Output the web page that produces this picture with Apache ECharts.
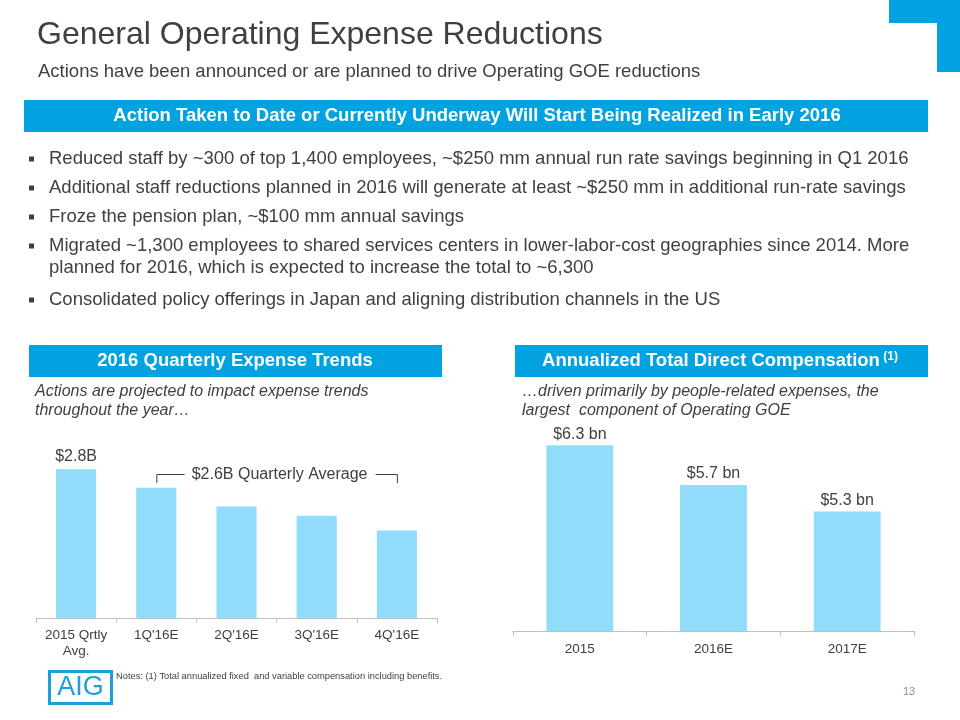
<!DOCTYPE html>
<html>
<head>
<meta charset="utf-8">
<script src="https://cdn.jsdelivr.net/npm/echarts@6/dist/echarts.min.js"></script>
<style>
html,body{margin:0;padding:0;background:#fff;}
#main{width:960px;height:720px;}
</style>
</head>
<body>
<div id="main"></div>
<script>
// ---- data ----
const qCategories = ['2015 Qrtly\nAvg.', "1Q'16E", "2Q'16E", "3Q'16E", "4Q'16E"];
const qValues = [2.8, 2.7, 2.6, 2.55, 2.47];
const qLabels = ['$2.8B', '', '', '', ''];
const qAverageLabel = '$2.6B Quarterly Average';
const compCategories = ['2015', '2016E', '2017E'];
const compValues = [6.3, 5.7, 5.3];
const compLabels = ['$6.3 bn', '$5.7 bn', '$5.3 bn'];
const titleText = 'General Operating Expense Reductions';
const subtitleText = 'Actions have been announced or are planned to drive Operating GOE reductions';
const bannerText = 'Action Taken to Date or Currently Underway Will Start Being Realized in Early 2016';
const bulletLines = [
  ['Reduced staff by ~300 of top 1,400 employees, ~$250 mm annual run rate savings beginning in Q1 2016'],
  ['Additional staff reductions planned in 2016 will generate at least ~$250 mm in additional run-rate savings'],
  ['Froze the pension plan, ~$100 mm annual savings'],
  ['Migrated ~1,300 employees to shared services centers in lower-labor-cost geographies since 2014. More', 'planned for 2016, which is expected to increase the total to ~6,300'],
  ['Consolidated policy offerings in Japan and aligning distribution channels in the US']
];
const leftBanner = '2016 Quarterly Expense Trends';
const rightBanner = 'Annualized Total Direct Compensation';
const leftNote = ['Actions are projected to impact expense trends', 'throughout the year\u2026'];
const rightNote = ['\u2026driven primarily by people-related expenses, the', 'largest  component of Operating GOE'];
const footNote = 'Notes: (1) Total annualized fixed  and variable compensation including benefits.';
const pageNumber = '13';

// ---- styles ----
const FONT = '"Liberation Sans", Arial, sans-serif';
const TXT = '#404040';
const BLUE = '#00a3e0';
const BAR = '#8fddfb';
const AXIS = '#bfbfbf';

const chart = echarts.init(document.getElementById('main'), null, {renderer: 'canvas'});

function staticGraphics() {
  const g = [];
  // corner decoration
  g.push({type: 'rect', shape: {x: 889, y: 0, width: 71, height: 23}, style: {fill: BLUE}, silent: true});
  g.push({type: 'rect', shape: {x: 937, y: 0, width: 23, height: 72}, style: {fill: BLUE}, silent: true});
  // title
  g.push({type: 'text', style: {text: titleText, x: 37, y: 35, font: '32px ' + FONT, fill: TXT, textVerticalAlign: 'middle'}});
  g.push({type: 'text', style: {text: subtitleText, x: 38, y: 72, font: '18.5px ' + FONT, fill: TXT, textVerticalAlign: 'middle'}});
  // top banner
  g.push({type: 'rect', shape: {x: 24, y: 100, width: 904, height: 32}, style: {fill: BLUE}});
  g.push({type: 'text', style: {text: bannerText, x: 477, y: 116, font: 'bold 18.5px ' + FONT, fill: '#fff', textAlign: 'center', textVerticalAlign: 'middle'}});
  // bullets
  const rowY = [159, 188, 217, 246, 300];
  bulletLines.forEach((lines, i) => {
    g.push({type: 'rect', shape: {x: 29, y: rowY[i] - 2.5, width: 5, height: 5}, style: {fill: TXT}});
    lines.forEach((ln, j) => {
      g.push({type: 'text', style: {text: ln, x: 49, y: rowY[i] + j * 22, font: '18.5px ' + FONT, fill: TXT, textVerticalAlign: 'middle'}});
    });
  });
  // lower banners
  g.push({type: 'rect', shape: {x: 29, y: 345, width: 413, height: 32}, style: {fill: BLUE}});
  g.push({type: 'text', style: {text: leftBanner, x: 235, y: 361, font: 'bold 18.5px ' + FONT, fill: '#fff', textAlign: 'center', textVerticalAlign: 'middle'}});
  g.push({type: 'rect', shape: {x: 515, y: 345, width: 413, height: 32}, style: {fill: BLUE}});
  g.push({type: 'text', style: {
    text: '{m|' + rightBanner + '} {s|(1)}', x: 720, y: 361, textAlign: 'center', textVerticalAlign: 'middle',
    rich: {
      m: {font: 'bold 18.5px ' + FONT, fill: '#fff', verticalAlign: 'middle'},
      s: {font: 'bold 12px ' + FONT, fill: '#fff', verticalAlign: 'top', padding: [0, 0, 8, 0]}
    }
  }});
  // italic notes
  leftNote.forEach((ln, j) => g.push({type: 'text', style: {text: ln, x: 35, y: 392 + j * 19, font: 'italic 16px ' + FONT, fill: TXT, textVerticalAlign: 'middle'}}));
  rightNote.forEach((ln, j) => g.push({type: 'text', style: {text: ln, x: 522, y: 392 + j * 19, font: 'italic 16px ' + FONT, fill: TXT, textVerticalAlign: 'middle'}}));
  // logo
  g.push({type: 'rect', shape: {x: 49.5, y: 671.5, width: 62, height: 32}, style: {fill: 'none', stroke: '#1f9fd8', lineWidth: 3}});
  g.push({type: 'text', style: {text: 'AIG', x: 80.5, y: 688, font: '27px ' + FONT, fill: '#1f9fd8', textAlign: 'center', textVerticalAlign: 'middle'}});
  g.push({type: 'text', style: {text: footNote, x: 116, y: 676, font: '9.3px ' + FONT, fill: TXT, textVerticalAlign: 'middle'}});
  g.push({type: 'text', style: {text: pageNumber, x: 909, y: 692, font: '11px ' + FONT, fill: '#8c8c8c', textAlign: 'center', textVerticalAlign: 'middle'}});
  return g;
}

const axisCommon = {
  type: 'category',
  axisLine: {show: true, lineStyle: {color: AXIS, width: 1}},
  axisTick: {show: true, alignWithLabel: false, length: 5, lineStyle: {color: AXIS}},
  axisLabel: {color: TXT, fontSize: 13.5, fontFamily: FONT, lineHeight: 16, interval: 0}
};

const option = {
  animation: false,
  backgroundColor: '#fff',
  grid: [
    {left: 36, width: 401, top: 432, height: 186},
    {left: 513, width: 401, top: 432, height: 199}
  ],
  xAxis: [
    Object.assign({}, axisCommon, {gridIndex: 0, data: qCategories, axisLabel: Object.assign({}, axisCommon.axisLabel, {margin: 9})}),
    Object.assign({}, axisCommon, {gridIndex: 1, data: compCategories, axisLabel: Object.assign({}, axisCommon.axisLabel, {margin: 10})})
  ],
  yAxis: [
    {type: 'value', gridIndex: 0, min: 2, max: 3, show: false, splitLine: {show: false}},
    {type: 'value', gridIndex: 1, min: 3.5, max: 6.5, show: false, splitLine: {show: false}}
  ],
  series: [
    {
      type: 'bar', xAxisIndex: 0, yAxisIndex: 0, data: qValues, barWidth: '50%',
      itemStyle: {color: BAR},
      label: {show: true, position: 'top', distance: 5, color: TXT, fontSize: 16, fontFamily: FONT,
        formatter: p => qLabels[p.dataIndex]}
    },
    {
      type: 'bar', xAxisIndex: 1, yAxisIndex: 1, data: compValues, barWidth: '50%',
      itemStyle: {color: BAR},
      label: {show: true, position: 'top', distance: 3, color: TXT, fontSize: 16, fontFamily: FONT,
        formatter: p => compLabels[p.dataIndex]}
    }
  ],
  graphic: staticGraphics()
};
chart.setOption(option);

// bracket annotation spanning the 2016 quarters, positioned from the axis
const xa = chart.convertToPixel({xAxisIndex: 0}, qCategories[1]);
const xb = chart.convertToPixel({xAxisIndex: 0}, qCategories[4]);
const yTop = 474, yEnd = 483;
const mid = (xa + xb) / 2 + 3;
const halfText = 91;
const g2 = staticGraphics();
g2.push({type: 'polyline', shape: {points: [[xa + 0.5, yEnd], [xa + 0.5, yTop + 0.5], [mid - halfText - 4, yTop + 0.5]]}, style: {stroke: TXT, lineWidth: 1, fill: null}});
g2.push({type: 'polyline', shape: {points: [[mid + halfText + 5, yTop + 0.5], [xb + 0.5, yTop + 0.5], [xb + 0.5, yEnd]]}, style: {stroke: TXT, lineWidth: 1, fill: null}});
g2.push({type: 'text', style: {text: qAverageLabel, x: mid, y: yTop + 1, font: '16px ' + FONT, fill: TXT, textAlign: 'center', textVerticalAlign: 'middle'}});
chart.setOption({graphic: g2}, {replaceMerge: ['graphic']});
</script>
</body>
</html>
